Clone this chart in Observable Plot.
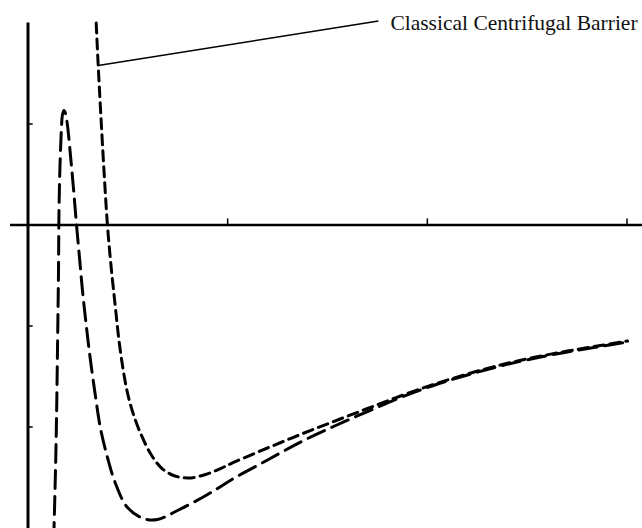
<!DOCTYPE html>
<html><head><meta charset="utf-8">
<script src="https://cdn.jsdelivr.net/npm/d3@7"></script>
<script src="https://cdn.jsdelivr.net/npm/@observablehq/plot@0.6"></script>
<style>html,body{margin:0;padding:0;background:#fff;overflow:hidden}</style>
</head><body><div id="chart"></div>
<script>
// Classical effective potential (with centrifugal barrier) — short dashes
const classicalX = [0.3416, 0.3516, 0.3636, 0.3791, 0.3977, 0.4157, 0.4367, 0.4558, 0.4773, 0.5013, 0.5299, 0.5684, 0.6195, 0.6711, 0.7287, 0.8038, 0.8890, 0.9641, 1.0292, 1.1995, 1.3647, 1.5300, 1.7003, 1.8656, 2.0308, 2.2011, 2.3664, 2.5316, 2.7019, 2.8672, 3.0024];
const classicalY = [2.00, 1.579, 1.134, 0.589, 0.005, -0.401, -0.797, -1.144, -1.441, -1.688, -1.886, -2.084, -2.282, -2.411, -2.480, -2.505, -2.470, -2.411, -2.351, -2.208, -2.074, -1.946, -1.817, -1.693, -1.579, -1.475, -1.386, -1.312, -1.248, -1.193, -1.149];
// Quantum effective potential — long dashes
const quantumX = [0.1287, 0.1377, 0.1427, 0.1477, 0.1528, 0.1553, 0.1603, 0.1678, 0.1728, 0.1803, 0.1878, 0.1978, 0.2128, 0.2279, 0.2429, 0.2579, 0.2729, 0.2930, 0.3130, 0.3381, 0.3631, 0.3982, 0.4382, 0.4983, 0.5784, 0.6486, 0.7487, 0.864, 0.949, 1.0292, 1.1995, 1.3647, 1.5300, 1.7003, 1.8656, 2.0308, 2.2011, 2.3664, 2.5316, 2.7019, 2.8672, 3.0024];
const quantumY = [-3.124, -2.431, -1.936, -1.243, -0.450, 0.144, 0.589, 0.965, 1.094, 1.134, 1.104, 0.985, 0.688, 0.361, 0.005, -0.322, -0.649, -1.015, -1.342, -1.698, -2.015, -2.302, -2.559, -2.797, -2.906, -2.916, -2.827, -2.708, -2.609, -2.510, -2.327, -2.149, -1.995, -1.847, -1.708, -1.589, -1.485, -1.396, -1.322, -1.257, -1.203, -1.158];
// Axis ticks
const xTicks = [1, 2, 3];
const yTicks = [1, -1, -2];
// Annotation
const labelText = ["Classical Centrifugal Barrier"];
const leaderX = [0.3516, 1.755];
const leaderY = [1.58, 2.02];
const labelX = [1.815];
const labelY = [2.0];
const yAxisTop = 2.0;

const classical = classicalX.map((x, i) => ({x, y: classicalY[i]}));
const quantum = quantumX.map((x, i) => ({x, y: quantumY[i]}));
const leader = [{x1: leaderX[0], y1: leaderY[0], x2: leaderX[1], y2: leaderY[1]}];
const label = labelText.map((t, i) => ({t, x: labelX[i], y: labelY[i]}));

const chart = Plot.plot({
  width: 642,
  height: 528,
  marginLeft: 10,
  marginRight: 0,
  marginTop: 0,
  marginBottom: 0,
  x: {domain: [-0.0876, 3.0776], axis: null},
  y: {domain: [-3.005, 2.223], axis: null},
  style: {fontFamily: "'Liberation Serif', serif", background: "#fff"},
  marks: [
    Plot.ruleY([0], {stroke: "#000", strokeWidth: 2.6}),
    Plot.ruleX([0], {y1: yAxisTop, y2: -3.005, stroke: "#000", strokeWidth: 3}),
    Plot.ruleX(xTicks, {y1: 0, y2: 0.06, stroke: "#000", strokeWidth: 1.5}),
    Plot.ruleY(yTicks, {x1: 0, x2: 0.026, stroke: "#000", strokeWidth: 1.5}),
    Plot.line(classical, {x: "x", y: "y", curve: "catmull-rom", stroke: "#000", strokeWidth: 3, strokeDasharray: "10,6", clip: true}),
    Plot.line(quantum, {x: "x", y: "y", curve: "catmull-rom", stroke: "#000", strokeWidth: 3, strokeDasharray: "18,8", clip: true}),
    Plot.link(leader, {x1: "x1", y1: "y1", x2: "x2", y2: "y2", stroke: "#000", strokeWidth: 1.5}),
    Plot.text(label, {x: "x", y: "y", text: "t", textAnchor: "start", fontSize: 21.5, fill: "#111", fontFamily: "'Liberation Serif', serif"})
  ]
});
document.getElementById("chart").appendChild(chart);
</script>
</body></html>
